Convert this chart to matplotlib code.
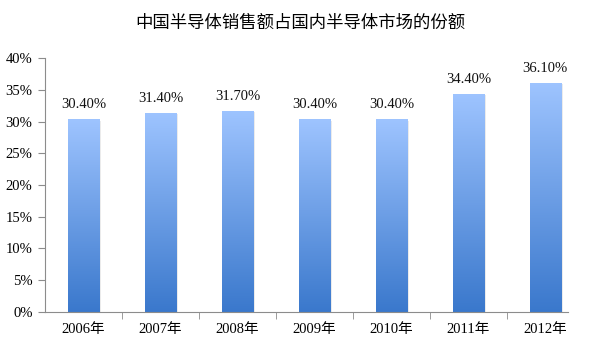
import numpy as np
import matplotlib
matplotlib.use("Agg")
import matplotlib.pyplot as plt
from matplotlib.colors import LinearSegmentedColormap

years = ["2006年", "2007年", "2008年", "2009年", "2010年", "2011年", "2012年"]
share = [30.4, 31.4, 31.7, 30.4, 30.4, 34.4, 36.1]
yticks = [0, 5, 10, 15, 20, 25, 30, 35, 40]

serif = ["Liberation Serif", "Noto Sans CJK SC"]
axis_gray = "#8c8c8c"

fig = plt.figure(figsize=(6, 3.5), dpi=100)
ax = fig.add_axes([0.075, 0.109, 0.898, 0.725])

x = np.arange(len(years))
bars = ax.bar(x, share, width=0.41, color="none", zorder=2)

# vertical gradient inside each bar, light on top, dark at the base
cmap = LinearSegmentedColormap.from_list("blues", ["#3a78cc", "#9ec4ff"])
grad = np.linspace(0, 1, 256).reshape(-1, 1)
for b in bars:
    x0, w, h = b.get_x(), b.get_width(), b.get_height()
    # soft shadow
    ax.add_patch(plt.Rectangle((x0 + 0.02, 0), w, h - 0.25, color="#000000",
                               alpha=0.08, lw=0, zorder=1))
    im = ax.imshow(grad, extent=(x0, x0 + w, 0, h), origin="lower",
                   cmap=cmap, aspect="auto", zorder=2)
    im.set_clip_path(b)
    ax.text(x0 + w / 2, h + 1.2, f"{h:.2f}%", ha="center", va="bottom",
            fontsize=10.5, family=serif, color="#111111")

ax.set_xlim(-0.5, 6.5)
ax.set_ylim(0, 40)

ax.set_yticks(yticks)
ax.set_yticklabels([f"{v}%" for v in yticks], family=serif, fontsize=10.5)
ax.set_xticks(x)
ax.set_xticklabels(years, family=serif, fontsize=10.5)
ax.set_xticks(np.arange(len(years) - 1) + 0.5, minor=True)
ax.tick_params(axis="x", which="major", length=0, pad=8)
ax.tick_params(axis="x", which="minor", length=5, color=axis_gray)
ax.tick_params(axis="y", length=5, color=axis_gray, pad=4)

for side in ["top", "right"]:
    ax.spines[side].set_visible(False)
for side in ["left", "bottom"]:
    ax.spines[side].set_color(axis_gray)
ax.spines["bottom"].set_bounds(-0.5, 6.3)

fig.text(0.5, 0.935, "中国半导体销售额占国内半导体市场的份额", ha="center",
         va="center", fontsize=12.5, family=["Noto Sans CJK SC", "DejaVu Sans"])

fig.savefig("out.png", dpi=100)
